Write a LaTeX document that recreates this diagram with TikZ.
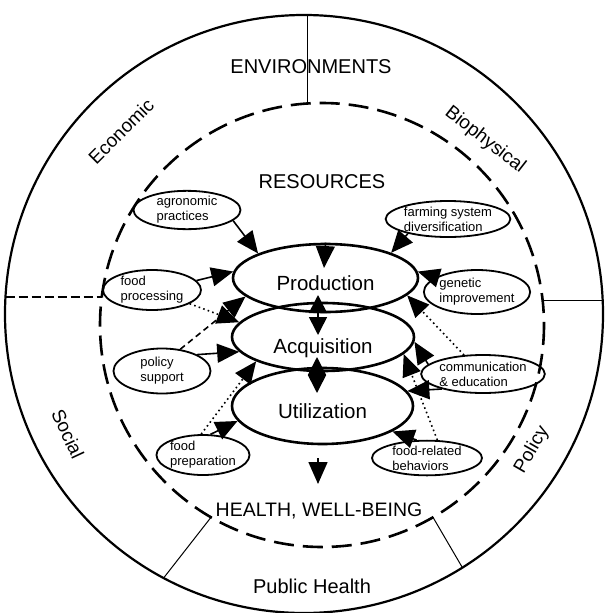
\documentclass[tikz,border=0pt]{standalone}
\usepackage{fontspec}
\setmainfont{Liberation Sans}
\usetikzlibrary{arrows.meta,shapes.geometric}
\begin{document}
\begin{tikzpicture}[x=1pt,y=-1pt,
  biglab/.style={font=\fontsize{20}{24}\selectfont, inner sep=0pt},
  ringlab/.style={font=\fontsize{19}{23}\selectfont, inner sep=0pt},
  mainell/.style={draw, ellipse, line width=2.6pt, inner sep=0pt, text depth=0pt,
    font=\fontsize{20.5}{24}\selectfont},
  smallell/.style={draw, ellipse, line width=1.8pt, inner sep=0pt, align=left,
    font=\fontsize{13}{15}\selectfont},
  wedge/.style={line width=1.6pt, -{Triangle[length=22pt,width=19pt]}},
  twoway/.style={line width=1.6pt, {Triangle[length=18pt,width=18pt]}-{Triangle[length=18pt,width=18pt]}},
  dotwedge/.style={wedge, dash pattern=on 1.6pt off 3.2pt},
  dashwedge/.style={wedge, dash pattern=on 6pt off 4pt},
  divider/.style={line width=1pt},
  dashdivider/.style={line width=1.6pt, dash pattern=on 9pt off 4pt},
]
\useasboundingbox (0,0) rectangle (606,613);

% rings
\draw[line width=2.2pt] (304,314) circle[radius=299];
\draw[line width=2.6pt, dash pattern=on 20pt off 9pt] (322,325) circle[radius=222];

% divider end points
\coordinate (dvt1) at (307,15);    \coordinate (dvt2) at (307,103.5);
\coordinate (dvl1) at (5.5,297);   \coordinate (dvl2) at (101.8,297);
\coordinate (dvr1) at (542.6,300); \coordinate (dvr2) at (603,300);
\coordinate (dbl1) at (211,517.3); \coordinate (dbl2) at (163.6,578);
\coordinate (dbr1) at (433,517.3); \coordinate (dbr2) at (462.4,567.6);
\draw[divider] (dvt1) -- (dvt2);
\draw[dashdivider] (dvl1) -- (dvl2);
\draw[divider] (dvr1) -- (dvr2);
\draw[divider] (dbl1) -- (dbl2);
\draw[divider] (dbr1) -- (dbr2);

% ring labels
\node[biglab] (env) at (311,67) {ENVIRONMENTS};
\node[ringlab, rotate=45] (econ) at (121,131) {Economic};
\node[ringlab, rotate=-38] (bio) at (485,140) {Biophysical};
\node[ringlab, rotate=-65] (soc) at (68,434) {Social};
\node[ringlab, rotate=60] (poli) at (532,450) {Policy};
\node[biglab] (pub) at (312,586) {Public Health};

% inner labels
\node[biglab] (res) at (322,182) {RESOURCES};
\node[biglab, font=\fontsize{19.5}{23}\selectfont] (health) at (319,511) {HEALTH, WELL-BEING};

% main ellipses
\node[mainell, minimum width=185pt, minimum height=68pt, text height=25pt] (prod) at (325.5,278) {Production};
\node[mainell, minimum width=182pt, minimum height=68pt, text height=32pt] (acq) at (323,337) {Acquisition};
\node[mainell, minimum width=181pt, minimum height=76pt, text height=25pt] (util) at (322.5,406) {Utilization};

% small ellipses
\node[smallell, minimum width=107pt, minimum height=33pt] (agro) at (187,210) {agronomic\\practices};
\node[smallell, minimum width=107pt, minimum height=36pt] (farm) at (448,219) {farming system\\diversification};
\node[smallell, minimum width=98pt, minimum height=40pt] (proc) at (152,290) {food\\processing};
\node[smallell, minimum width=97pt, minimum height=44pt] (gen) at (477,292) {genetic\\improvement};
\node[smallell, minimum width=97pt, minimum height=45pt] (pol) at (162,371) {policy\\support};
\node[smallell, minimum width=100pt, minimum height=38pt] (comm) at (483,374) {communication\\\& education};
\node[smallell, minimum width=92pt, minimum height=40pt] (prep) at (203,455) {food\\preparation};
\node[smallell, minimum width=110pt, minimum height=34pt] (beh) at (427,458) {food-related\\behaviors};

% central arrows
\coordinate (restip) at (324,268);
\coordinate (pa1) at (318,295);
\coordinate (pa2) at (318,335);
\coordinate (au1) at (317,357);
\coordinate (au2) at (317,393);
\coordinate (uh1) at (318,458);
\coordinate (uh2) at (318,484);
\draw[wedge] (prod.north) -- (restip);
\draw[twoway] (pa1) -- (pa2);
\draw[twoway] (au1) -- (au2);
\draw[wedge] (uh1) -- (uh2);

% left arrows
\draw[wedge] (agro.-13) -- (prod.160);
\draw[wedge] (proc.12) -- (prod.176);
\draw[dotwedge] (proc.-20) -- (acq.170);
\draw[dashwedge] (pol.50) -- (prod.193);
\draw[wedge] (pol.25) -- (acq.190);
\draw[dotwedge] (prep.95) -- (acq.200);
\draw[wedge] (prep.70) -- (util.190);

% right arrows
\draw[wedge] (farm.-160) -- (prod.21);
\draw[wedge] (gen.160) -- (prod.4);
\draw[dotwedge] (comm.135) -- (prod.-12);
\draw[wedge] (comm.170) -- (acq.-3);
\draw[dotwedge] (beh.60) -- (acq.-12);
\draw[wedge] (comm.-160) -- (util.10);
\draw[wedge] (beh.120) -- (util.-20);
\end{tikzpicture}
\end{document}
